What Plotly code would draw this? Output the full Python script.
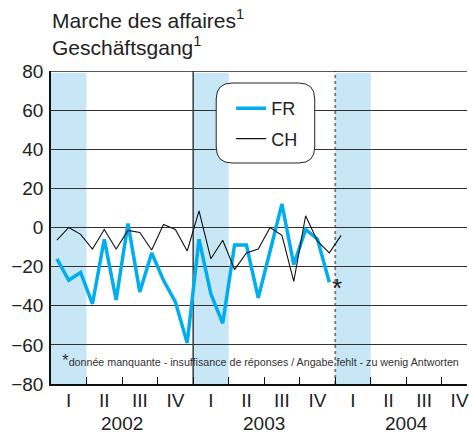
import plotly.graph_objects as go

# ---- data ----
fr_values = [-16, -27, -23, -39, -6, -37, 2, -33, -13, -27, -38, -59,
             -6, -34, -49, -9, -9, -36, -12, 12, -19, -1, -6, -28]
ch_values = [-6.5, 0, -3.5, -11, -1, -11, -1.5, -2.5, -11.5, 1.5, -1, -12,
             8.5, -16, -6.5, -21.5, -13, -11, 0, -4, -27.5, 6, -7, -13, -4]
quarter_labels = ["I", "II", "III", "IV"]
years = ["2002", "2003", "2004"]
y_ticks = [-80, -60, -40, -20, 0, 20, 40, 60, 80]
missing_month = 24          # January 2004, FR missing
missing_value = -30
footnote = "donnée manquante - insuffisance de réponses / Angabe fehlt - zu wenig Antworten"

FONT = "Liberation Sans, Arial, Helvetica, sans-serif"
CYAN = "#00aeef"
BAND = "#c7e7f7"

months_fr = [i + 0.5 for i in range(len(fr_values))]
months_ch = [i + 0.5 for i in range(len(ch_values))]

fig = go.Figure()
fig.add_trace(go.Scatter(x=months_fr, y=fr_values, mode="lines", name="FR", legendgroup="fr",
                         line=dict(color=CYAN, width=3.5)))
fig.add_trace(go.Scatter(x=months_ch, y=ch_values, mode="lines", name="CH", legendgroup="ch",
                         line=dict(color="#111111", width=1.1)))

# plot geometry (px)
L, R, T, B = 51, 469, 71, 384
W, H = 469, 439
xmax = (R - L) / 35.7 * 3

shapes = []
# Q1 shaded bands
for k in range(len(years)):
    shapes.append(dict(type="rect", xref="x", yref="y", x0=12 * k, x1=12 * k + 3,
                       y0=-80, y1=79, fillcolor=BAND, line=dict(width=0), layer="below"))
# year separator 2003 (solid) and forecast separator (dotted)
shapes.append(dict(type="line", xref="x", yref="y", x0=12, x1=12, y0=-80, y1=80,
                   line=dict(color="#111111", width=1.2), layer="below"))
shapes.append(dict(type="line", xref="x", yref="y", x0=24, x1=24, y0=-80, y1=80,
                   line=dict(color="#777777", width=1.8, dash="dot"), layer="below"))
# top border
shapes.append(dict(type="line", xref="paper", yref="y", x0=0, x1=1, y0=80, y1=80,
                   line=dict(color="#222222", width=1.3)))

# rounded legend box
def px2paper(px, py):
    return (px - L) / (R - L), (B - py) / (B - T)

x0p, y0p = px2paper(217, 163)
x1p, y1p = px2paper(316, 83)
rx = 16 / (R - L)
ry = 16 / (B - T)
path = (f"M {x0p + rx},{y0p} L {x1p - rx},{y0p} Q {x1p},{y0p} {x1p},{y0p + ry} "
        f"L {x1p},{y1p - ry} Q {x1p},{y1p} {x1p - rx},{y1p} "
        f"L {x0p + rx},{y1p} Q {x0p},{y1p} {x0p},{y1p - ry} "
        f"L {x0p},{y0p + ry} Q {x0p},{y0p} {x0p + rx},{y0p} Z")
shapes.append(dict(type="path", xref="paper", yref="paper", path=path,
                   fillcolor="white", line=dict(color="#222222", width=1), layer="above"))

annotations = []
# title
annotations.append(dict(xref="paper", yref="paper", x=(50 - L) / (R - L), xanchor="left",
                        y=(B - 4) / (B - T), yanchor="top", showarrow=False, align="left",
                        text="Marche des affaires<sup>1</sup><br>Geschäftsgang<sup>1</sup>",
                        font=dict(family=FONT, size=21, color="#222222")))
# year labels
for k, yr in enumerate(years):
    annotations.append(dict(xref="x", yref="paper", x=12 * k + 6, y=(B - 424) / (B - T),
                            yanchor="middle", showarrow=False, text=yr,
                            font=dict(family=FONT, size=19, color="#222222")))
# missing marker
annotations.append(dict(xref="x", yref="y", x=missing_month, y=missing_value, xshift=2,
                        yshift=-2, showarrow=False, text="*",
                        font=dict(family=FONT, size=26, color="#222222")))
# footnote
annotations.append(dict(xref="paper", yref="paper", x=(60 - L) / (R - L), xanchor="left",
                        y=(B - 360) / (B - T), yanchor="middle", showarrow=False,
                        text="<span style='font-size:17px'>*</span>" + footnote,
                        font=dict(family=FONT, size=10.7, color="#333333")))

tick_centers = [q * 3 + 1.5 for q in range(12)]
tick_text = [quarter_labels[q % 4] for q in range(12)]

fig.update_layout(
    width=W, height=H,
    margin=dict(l=L, r=W - R, t=T, b=H - B, pad=0),
    paper_bgcolor="white", plot_bgcolor="white",
    showlegend=True,
    legend=dict(x=(232 - L) / (R - L), y=(B - 90) / (B - T), xanchor="left", yanchor="top",
                bgcolor="rgba(0,0,0,0)", borderwidth=0, tracegroupgap=4,
                font=dict(family=FONT, size=18, color="#222222")),
    shapes=shapes, annotations=annotations,
    xaxis=dict(range=[0, xmax], showgrid=False, zeroline=False,
               showline=True, linecolor="#111111", linewidth=2,
               tickmode="array", tickvals=tick_centers, ticktext=tick_text, ticks="",
               ticklabelstandoff=-2, ticklabeloverflow="allow",
               tickfont=dict(family=FONT, size=19, color="#222222"),
               minor=dict(tickmode="array", tickvals=[3 * q for q in range(1, 12)],
                          ticks="inside", ticklen=7, tickwidth=1, tickcolor="#111111",
                          showgrid=False)),
    yaxis=dict(range=[-80, 80], tickmode="array", tickvals=y_ticks,
               showgrid=True, gridcolor="#333333", gridwidth=1.2, zeroline=False,
               showline=True, linecolor="#111111", linewidth=1.6, ticks="",
               ticklabelstandoff=2,
               tickfont=dict(family=FONT, size=19, color="#222222")),
)

fig.write_html("out.html", config={"displayModeBar": False},
               post_script="document.body.style.margin='0';")
